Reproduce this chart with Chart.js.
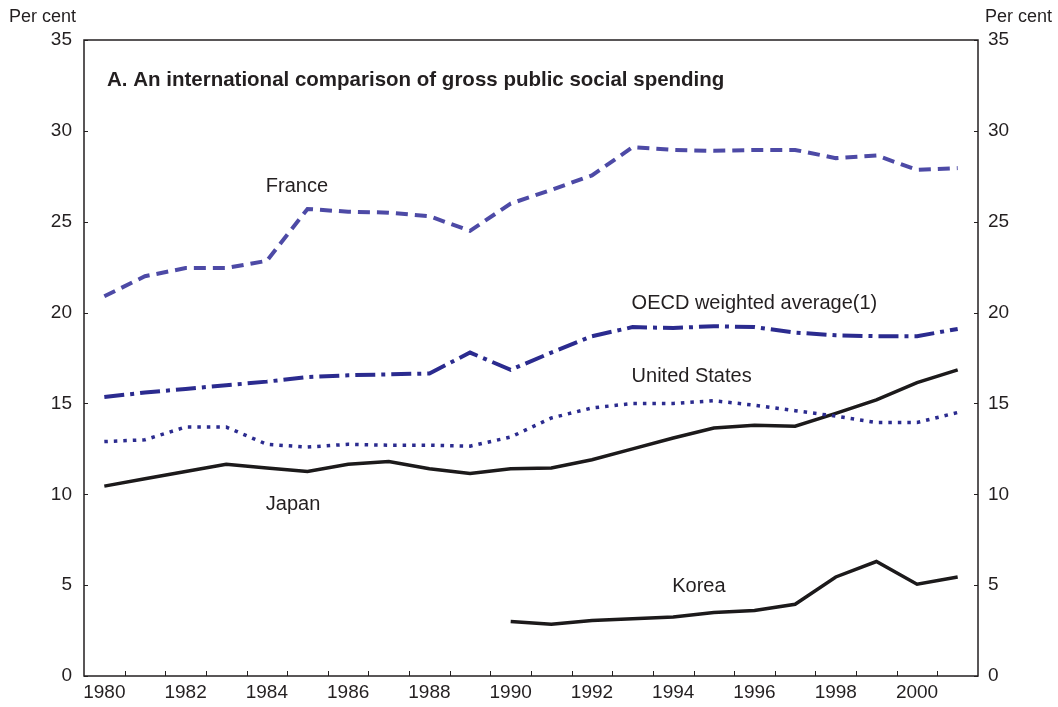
<!DOCTYPE html>
<html>
<head>
<meta charset="utf-8">
<script src="https://cdn.jsdelivr.net/npm/chart.js@4.4.1/dist/chart.umd.min.js"></script>
<style>
  html, body { margin: 0; padding: 0; background: #fff; }
  #wrap { position: relative; width: 1058px; height: 707px; }
</style>
</head>
<body>
<div id="wrap"><canvas id="socialChart" width="1058" height="707"></canvas></div>
<script>
// ---------------- DATA ----------------
const years = ['1980','1981','1982','1983','1984','1985','1986','1987','1988','1989','1990',
               '1991','1992','1993','1994','1995','1996','1997','1998','1999','2000','2001'];

const france = [20.9, 22.0, 22.45, 22.45, 22.85, 25.7, 25.55, 25.5, 25.3, 24.5, 26.0,
                26.75, 27.55, 29.1, 28.95, 28.9, 28.95, 28.95, 28.5, 28.65, 27.85, 27.95];
const oecd   = [15.35, 15.6, 15.8, 16.0, 16.2, 16.45, 16.55, 16.6, 16.65, 17.8, 16.85,
                17.8, 18.7, 19.2, 19.15, 19.25, 19.2, 18.9, 18.75, 18.7, 18.7, 19.1];
const us     = [12.9, 13.0, 13.7, 13.7, 12.75, 12.6, 12.75, 12.7, 12.7, 12.65, 13.15,
                14.2, 14.75, 15.0, 15.0, 15.15, 14.9, 14.6, 14.3, 13.95, 13.95, 14.5];
const japan  = [10.45, 10.85, 11.25, 11.65, 11.45, 11.25, 11.65, 11.8, 11.4, 11.15, 11.4,
                11.45, 11.9, 12.5, 13.1, 13.65, 13.8, 13.75, 14.45, 15.2, 16.15, 16.85];
const korea  = [null, null, null, null, null, null, null, null, null, null, 3.0,
                2.85, 3.05, 3.15, 3.25, 3.5, 3.6, 3.95, 5.45, 6.3, 5.05, 5.45];

const yTicks = [0, 5, 10, 15, 20, 25, 30, 35];

// series labels: [text, year, value] anchored via the scales
const seriesLabels = [
  ['France', '1984', 26.95],
  ['OECD weighted average(1)', '1993', 20.5],
  ['United States', '1993', 16.5],
  ['Japan', '1984', 9.45],
  ['Korea', '1994', 4.95]
];

const TITLE = 'A. An international comparison of gross public social spending';
const FONT = '"Liberation Sans", Arial, sans-serif';
const TXT = '#231f20';

// ---------------- PLUGIN: frame, inward ticks, texts ----------------
const decor = {
  id: 'decor',
  afterDraw(chart) {
    const ctx = chart.ctx;
    const a = chart.chartArea;
    const xs = chart.scales.x, yl = chart.scales.y;
    ctx.save();
    ctx.strokeStyle = '#231f20';
    ctx.lineWidth = 1.5;
    ctx.strokeRect(a.left, a.top, a.right - a.left, a.bottom - a.top);

    // inward tick marks
    ctx.lineWidth = 1;
    ctx.beginPath();
    const half = (xs.getPixelForValue(1) - xs.getPixelForValue(0)) / 2;
    for (let i = 1; i < years.length; i++) {
      const px = Math.round(xs.getPixelForValue(i) - half) + 0.5;
      ctx.moveTo(px, a.bottom);
      ctx.lineTo(px, a.bottom - 5);
    }
    yTicks.forEach(v => {
      const py = Math.round(yl.getPixelForValue(v)) + 0.5;
      ctx.moveTo(a.left, py); ctx.lineTo(a.left + 4, py);
      ctx.moveTo(a.right, py); ctx.lineTo(a.right - 4, py);
    });
    ctx.stroke();

    ctx.fillStyle = TXT;
    ctx.textBaseline = 'middle';
    // "Per cent" headers
    ctx.font = '18px ' + FONT;
    ctx.textAlign = 'right';
    ctx.fillText('Per cent', 76, 17);
    ctx.textAlign = 'left';
    ctx.fillText('Per cent', 985, 17);

    // panel title
    ctx.font = 'bold 20.5px ' + FONT;
    ctx.fillText(TITLE, a.left + 23, a.top + 40);

    // series labels
    ctx.font = '20px ' + FONT;
    seriesLabels.forEach(([t, yr, v]) => {
      ctx.fillText(t, xs.getPixelForValue(years.indexOf(yr)) - 1, yl.getPixelForValue(v));
    });
    ctx.restore();
  }
};

// ---------------- CHART ----------------
const ctx = document.getElementById('socialChart').getContext('2d');

function lineSet(label, data, color, dash, width) {
  return {
    label, data,
    borderColor: color,
    borderWidth: width,
    borderDash: dash,
    borderCapStyle: 'butt',
    pointRadius: 0,
    tension: 0,
    fill: false,
    spanGaps: false
  };
}

const tickFont = { family: FONT, size: 19 };

new Chart(ctx, {
  type: 'line',
  data: {
    labels: years,
    datasets: [
      lineSet('France', france, '#4d4aa6', [12, 7], 4),
      lineSet('OECD weighted average', oecd, '#2b2b8f', [20, 6, 4, 6], 4),
      lineSet('United States', us, '#2b2b8f', [3.5, 6], 3.5),
      lineSet('Japan', japan, '#1c1a1b', [], 3.5),
      lineSet('Korea', korea, '#1c1a1b', [], 3.5)
    ]
  },
  options: {
    responsive: false,
    animation: false,
    layout: { padding: { top: 40, left: 0, right: 0, bottom: 0 } },
    plugins: { legend: { display: false }, tooltip: { enabled: false } },
    scales: {
      x: {
        type: 'category',
        offset: true,
        grid: { display: false, drawTicks: false },
        border: { display: false },
        ticks: {
          color: TXT, font: tickFont, padding: 5,
          autoSkip: false, maxRotation: 0,
          callback: function(v, i) { return i % 2 === 0 ? years[i] : ''; }
        },
        afterFit(s) { s.height = 31; }
      },
      y: {
        position: 'left',
        min: 0, max: 35,
        grid: { display: false, drawTicks: false },
        border: { display: false },
        ticks: { stepSize: 5, color: TXT, font: tickFont, padding: 12 },
        afterFit(s) { s.width = 84; }
      },
      y1: {
        position: 'right',
        min: 0, max: 35,
        grid: { display: false, drawTicks: false },
        border: { display: false },
        ticks: { stepSize: 5, color: TXT, font: tickFont, padding: 10 },
        afterFit(s) { s.width = 80; }
      }
    }
  },
  plugins: [decor]
});
</script>
</body>
</html>
